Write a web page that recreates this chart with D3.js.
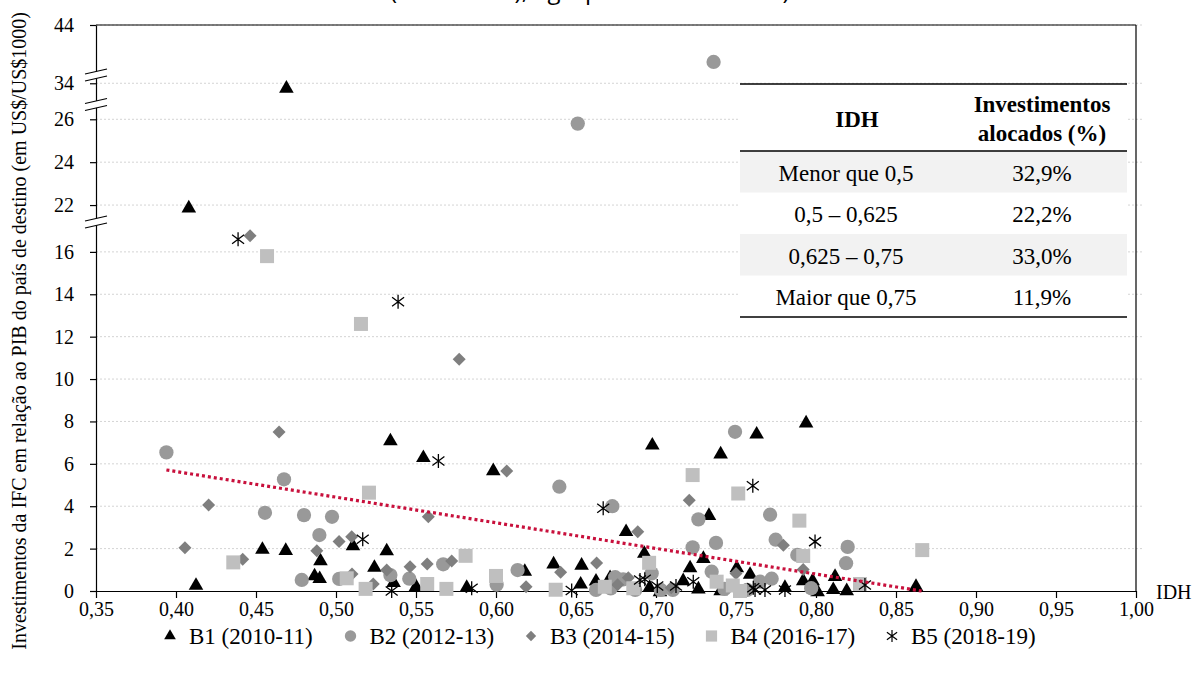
<!DOCTYPE html>
<html><head><meta charset="utf-8">
<script src="https://cdn.jsdelivr.net/npm/d3@7"></script>
<style>
body{margin:0;background:#fff}
svg{display:block}
text{font-family:"Liberation Serif","Times New Roman",serif;fill:#000}
</style>
</head><body>
<svg id="c" width="1200" height="675"></svg>
<script>
// ---------- DATA ----------
const titleText = "(2010-2019), agrupados em biênios)";
const yTitle = "Investimentos da IFC em relação ao PIB do país de destino (em US$/US$1000)";
const xTitle = "IDH";
const xTicks = [0.35,0.40,0.45,0.50,0.55,0.60,0.65,0.70,0.75,0.80,0.85,0.90,0.95,1.00];
const yTicks = [0,2,4,6,8,10,12,14,16,22,24,26,34,44];
const yBreakValues = [17.41, 26.69, 34.39];   // axis breaks (16→22, 26→34, 34→44)
const seriesNames = ["B1 (2010-11)","B2 (2012-13)","B3 (2014-15)","B4 (2016-17)","B5 (2018-19)"];

const b1 = [[0.4125,0.3],[0.408,21.9],[0.469,33.8],[0.454,2.0],[0.4686,1.95],[0.4866,0.75],[0.4898,0.62],[0.4903,1.46],
 [0.534,7.12],[0.5546,6.33],[0.5106,2.17],[0.524,1.15],[0.5317,1.93],[0.536,0.44],[0.55,0.25],[0.5817,0.2],[0.5983,5.71],
 [0.618,0.96],[0.636,1.31],[0.6535,1.25],[0.6529,0.36],[0.6625,0.5],[0.6713,0.67],[0.6813,2.84],[0.6927,1.81],[0.696,0.2],
 [0.6977,6.92],[0.7025,0.0],[0.717,0.52],[0.7213,1.13],[0.7265,0.13],[0.7296,1.57],[0.7331,3.6],[0.7404,6.5],[0.7505,1.13],
 [0.7588,0.82],[0.7629,7.44],[0.7404,0.05],[0.7806,0.2],[0.792,0.52],[0.7979,0.52],[0.801,0.0],[0.7938,7.96],[0.8108,0.1],
 [0.8119,0.72],[0.8192,0.05],[0.8625,0.25]];
const b2 = [[0.394,6.54],[0.4675,5.27],[0.4556,3.69],[0.48,3.58],[0.4975,3.5],[0.4896,2.64],[0.4786,0.52],[0.502,0.57],
 [0.534,0.75],[0.5458,0.58],[0.567,1.26],[0.6004,0.3],[0.6135,0.99],[0.6396,4.92],[0.6727,4.0],[0.6511,25.8],[0.736,42.3],
 [0.7265,3.38],[0.7229,2.06],[0.7375,2.27],[0.6973,0.83],[0.7348,0.91],[0.7494,7.51],[0.7713,3.6],[0.7748,2.42],[0.7883,1.7],
 [0.8198,2.08],[0.8188,1.31],[0.7723,0.58],[0.765,0.44],[0.797,0.13],[0.6745,0.65],[0.6625,0.05],[0.6717,0.12],[0.6795,0.55],
 [0.687,0.05],[0.703,0.05],[0.7105,0.05],[0.7428,0.1],[0.757,0.05]];
const b3 = [[0.4644,7.5],[0.4204,4.06],[0.4056,2.04],[0.4417,1.5],[0.488,1.9],[0.5019,2.33],[0.5098,2.56],[0.51,0.8],
 [0.5317,0.99],[0.5233,0.33],[0.5463,1.15],[0.557,1.27],[0.5577,3.5],[0.5723,1.42],[0.6067,5.66],[0.577,10.94],[0.4463,16.76],
 [0.6188,0.2],[0.6404,0.88],[0.6629,1.32],[0.6827,0.63],[0.6886,2.8],[0.7208,4.28],[0.75,0.82],[0.7796,2.16],[0.792,1.02],
 [0.676,0.3],[0.7095,0.15]];
const b4 = [[0.4358,1.35],[0.4569,15.8],[0.5156,12.6],[0.5206,4.64],[0.5067,0.6],[0.5185,0.1],[0.557,0.33],[0.569,0.1],
 [0.581,1.66],[0.6,0.71],[0.6373,0.06],[0.668,0.2],[0.6858,0.13],[0.6957,1.33],[0.7229,5.47],[0.7514,4.6],[0.7379,0.44],
 [0.748,0.26],[0.7525,0.0],[0.7896,3.32],[0.792,1.65],[0.8275,0.33],[0.8664,1.93]];
const b5 = [[0.4388,16.6],[0.5388,13.65],[0.5167,2.44],[0.5348,0.0],[0.564,6.13],[0.5848,0.13],[0.6473,0.02],[0.667,3.9],
 [0.69,0.52],[0.693,0.55],[0.7008,0.24],[0.7125,0.24],[0.7233,0.44],[0.7605,4.97],[0.7608,0.15],[0.7619,0.05],[0.7681,0.05],
 [0.7806,0.05],[0.7994,2.33],[0.8306,0.28]];
const trendX = [0.394, 0.866];
const trendY = [5.71, 0.0];

const tableHeader = ["IDH", "Investimentos|alocados (%)"];
const tableIDH = ["Menor que 0,5", "0,5 – 0,625", "0,625 – 0,75", "Maior que 0,75"];
const tableShare = ["32,9%", "22,2%", "33,0%", "11,9%"];

// ---------- LAYOUT ----------
const svg = d3.select("#c");
svg.append("rect").attr("width",1200).attr("height",675).attr("fill","#fff");
const L = 96, R = 1136, T = 25, B = 591;
const x = d3.scaleLinear().domain([0.35, 1.0]).range([L, R]);
// broken y axis: piecewise linear with flat segments at the breaks
const y = d3.scaleLinear()
  .domain([0, 17.41, 21.21, 26.69, 33.0, 34.39, 41.7, 44])
  .range([B, 222, 222, 104.5, 104.5, 75, 75, T]);
const fmt = d => d3.format(".2f")(d).replace(".", ",");

// title (clipped at top, as in the source image)
svg.append("text").attr("x",390).attr("y",-1).attr("font-size",24)
  .style("font-family","'Open Sans',sans-serif").text(titleText);

// gridlines
svg.append("g").selectAll("line").data(yTicks.filter(d => d > 0)).join("line")
  .attr("x1", L).attr("x2", R + 6).attr("y1", d => y(d)).attr("y2", d => y(d))
  .attr("stroke", "#d4d4d4").attr("stroke-width", 1).attr("stroke-dasharray", "2,2");

// frame top/right
svg.append("line").attr("x1",L).attr("x2",R).attr("y1",T).attr("y2",T).attr("stroke","#000").attr("stroke-width",1.2);
svg.append("line").attr("x1",R).attr("x2",R).attr("y1",T).attr("y2",B).attr("stroke","#000").attr("stroke-width",1.2);

// axes
const gx = svg.append("g").attr("transform", `translate(0,${B})`)
  .call(d3.axisBottom(x).tickValues(xTicks).tickFormat(fmt).tickSize(7).tickSizeOuter(0).tickPadding(4));
const gy = svg.append("g").attr("transform", `translate(${L},0)`)
  .call(d3.axisLeft(y).tickValues(yTicks).tickSize(6).tickSizeOuter(0).tickPadding(16));
[gx, gy].forEach(g => {
  g.selectAll("path,line").attr("stroke", "#000").attr("stroke-width", 1.2);
  g.selectAll("text").attr("font-size", 20).style("font-family", "'Liberation Serif',serif").attr("fill","#000");
});

// axis breaks
yBreakValues.forEach(v => {
  const cy = y(v), hw = 11, sl = 2.5, gap = 3.5;
  const g = svg.append("g");
  g.append("path").attr("d",
    `M${L-hw},${cy-gap+sl}L${L+hw},${cy-gap-sl}L${L+hw},${cy+gap-sl}L${L-hw},${cy+gap+sl}Z`)
    .attr("fill", "#fff");
  [-gap, gap].forEach(o => g.append("line")
    .attr("x1", L-hw).attr("y1", cy+o+sl).attr("x2", L+hw).attr("y2", cy+o-sl)
    .attr("stroke", "#000").attr("stroke-width", 1.1));
});

// axis titles
svg.append("text").attr("transform", "translate(26,12) rotate(-90)")
  .attr("text-anchor", "end").attr("font-size", 20).text(yTitle);
svg.append("text").attr("x", 1156).attr("y", 599).attr("font-size", 20).text(xTitle);

// ---------- MARKERS ----------
const tri = d3.symbol().type(d3.symbolTriangle).size(92)();
const diamond = "M0,-6.5L6.5,0L0,6.5L-6.5,0Z";
const square = "M-7,-7H7V7H-7Z";
const star = "M0,-7V7M-6,-4.5L6,4.5M-6,4.5L6,-4.5";
const circle = d3.symbol().type(d3.symbolCircle).size(160)();
const styles = [
  {path: tri, fill: "#000", stroke: "none"},
  {path: circle, fill: "#999999", stroke: "none"},
  {path: diamond, fill: "#7f7f7f", stroke: "none"},
  {path: square, fill: "#bfbfbf", stroke: "none"},
  {path: star, fill: "none", stroke: "#000"}
];
const allSeries = [b1, b2, b3, b4, b5];
allSeries.forEach((s, i) => {
  const st = styles[i];
  svg.append("g").selectAll("path").data(s).join("path")
    .attr("d", st.path)
    .attr("transform", d => `translate(${x(d[0])},${y(d[1]) + (i === 0 ? 1 : 0)})`)
    .attr("fill", st.fill).attr("stroke", st.stroke).attr("stroke-width", 1.3);
});

// trendline
svg.append("line")
  .attr("x1", x(trendX[0])).attr("y1", y(trendY[0]))
  .attr("x2", x(trendX[1])).attr("y2", y(trendY[1]))
  .attr("stroke", "#c8103c").attr("stroke-width", 3.2).attr("stroke-dasharray", "3,3");

// ---------- TABLE ----------
const tL = 740, tR = 1127, tT = 84, tH = 151, rowH = 41.5;
const c1 = 846, c1h = 857, c2 = 1042;
const tb = svg.append("g");
tb.append("rect").attr("x", tL).attr("y", tT).attr("width", tR - tL).attr("height", tH - tT + rowH * 4).attr("fill", "#fff");
tableIDH.forEach((d, i) => {
  if (i % 2 === 0) tb.append("rect").attr("x", tL).attr("y", tH + i * rowH).attr("width", tR - tL).attr("height", rowH).attr("fill", "#f2f2f2");
  tb.append("text").attr("x", c1).attr("y", tH + (i + 0.5) * rowH + 1).attr("dy", "0.35em")
    .attr("text-anchor", "middle").attr("font-size", 23).text(d);
  tb.append("text").attr("x", c2).attr("y", tH + (i + 0.5) * rowH + 1).attr("dy", "0.35em")
    .attr("text-anchor", "middle").attr("font-size", 23).text(tableShare[i]);
});
[tT, tH, tH + rowH * 4].forEach(yy => tb.append("line").attr("x1", tL).attr("x2", tR)
  .attr("y1", yy).attr("y2", yy).attr("stroke", "#000").attr("stroke-width", 1.6));
tb.append("text").attr("x", c1h).attr("y", (tT + tH) / 2 + 1).attr("dy", "0.35em").attr("text-anchor", "middle")
  .attr("font-size", 23).attr("font-weight", "bold").text(tableHeader[0]);
tableHeader[1].split("|").forEach((t, k) => tb.append("text").attr("x", c2).attr("y", 104 + k * 29).attr("dy", "0.35em")
  .attr("text-anchor", "middle").attr("font-size", 23).attr("font-weight", "bold").text(t));

// ---------- LEGEND ----------
const legX = d3.scalePoint().domain(seriesNames).range([170, 892]);
const lg = svg.append("g");
seriesNames.forEach((n, i) => {
  const st = styles[i];
  const sc = i === 4 ? 0.85 : 0.8;
  lg.append("path").attr("d", st.path).attr("transform", `translate(${legX(n)},636) scale(${sc})`)
    .attr("fill", st.fill).attr("stroke", st.stroke).attr("stroke-width", 1.4);
  lg.append("text").attr("x", legX(n) + 19).attr("y", 636).attr("dy", "0.35em").attr("font-size", 23).text(n);
});
</script>
</body></html>
